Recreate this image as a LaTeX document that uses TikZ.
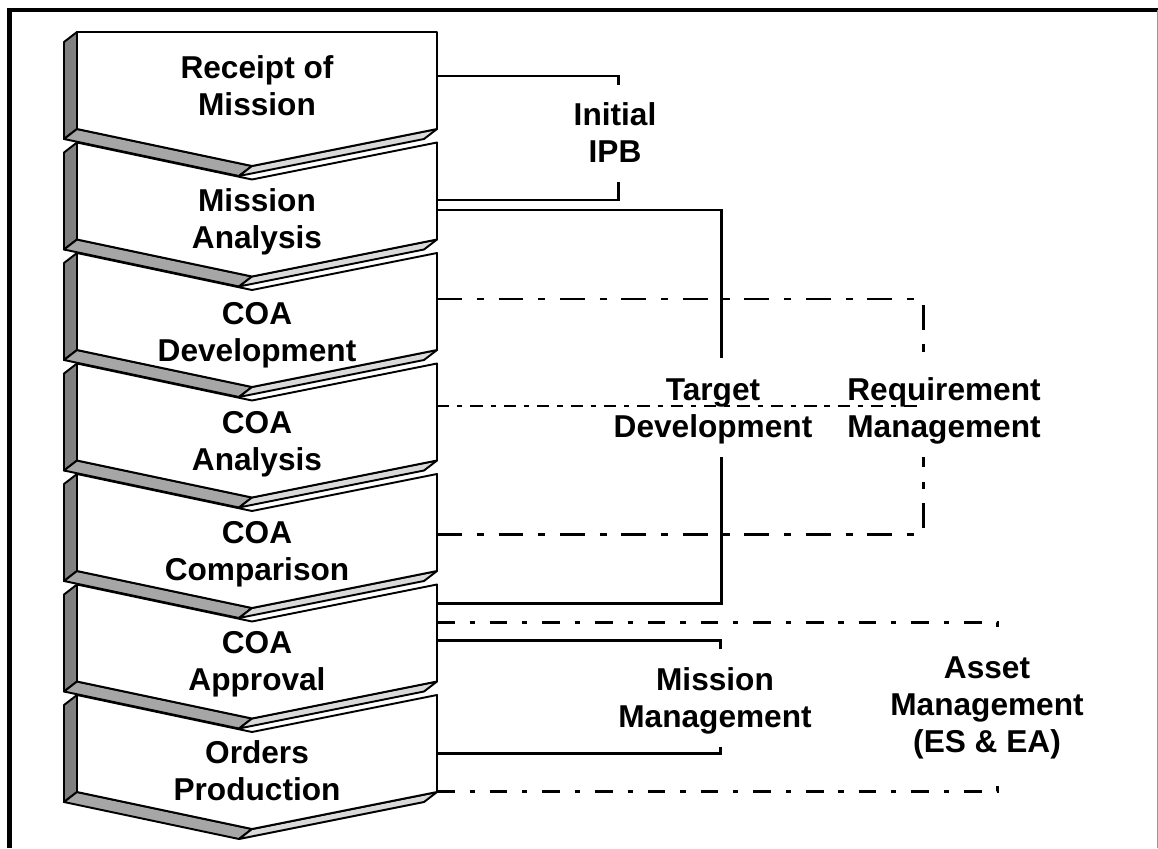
\documentclass[tikz,border=0pt]{standalone}
\usepackage{fontspec}
\setmainfont{Liberation Sans}
\usetikzlibrary{positioning}
\tikzstyle{stage} = [font=\bfseries\fontsize{18}{21}\selectfont, align=center, inner sep=0pt, anchor=base]
\tikzstyle{task} = [stage]
\tikzstyle{side} = [draw, line width=1.1pt, line join=round]
\tikzstyle{link} = [line width=1.7pt]
\tikzstyle{reqlink} = [line width=1.7pt, dash pattern=on 14pt off 8.5pt on 4pt off 8.5pt]
\tikzstyle{reqmid} = [line width=1.7pt, dash pattern=on 7pt off 4.5pt on 3pt off 4.5pt]
\tikzstyle{assetlink} = [line width=1.7pt, dash pattern=on 10pt off 8.5pt on 3pt off 8.5pt]

\begin{document}
\begin{tikzpicture}[x=0.02cm, y=-0.02cm]
\useasboundingbox (0,0) rectangle (1158,848);

% Frame
\draw[line width=2.3pt] (9.5,848) -- (9.5,10) -- (1158,10);
\draw[black!40, line width=0.4pt] (1157,10) -- (1157,848);

% Chevrons of the planning steps
\foreach \i in {0,...,6}{
  \pgfmathsetmacro\T{32+110.5*\i}
  \pgfmathsetmacro\N{\i==0 ? \T : \T+37}
  \filldraw[side, fill=black!50] (77,\T) -- ({77},{\T+97}) -- ({64},{\T+107}) -- ({64},{\T+10}) -- cycle;
  \filldraw[side, fill=black!35] ({77},{\T+97}) -- ({252},{\T+134}) -- ({239},{\T+144}) -- ({64},{\T+107}) -- cycle;
  \filldraw[side, fill=black!15] ({252},{\T+134}) -- ({437},{\T+97}) -- ({424},{\T+107}) -- ({239},{\T+144}) -- cycle;
  \filldraw[side, fill=white] (77,\T) -- (252,\N) -- (437,\T) -- ({437},{\T+97}) -- ({252},{\T+134}) -- ({77},{\T+97}) -- cycle;
}

% Step labels (placed at the baseline of the last line)
\node (rcpt) [stage] at (257,115) {Receipt of\\Mission};
\node (mana) [stage] at (257,248) {Mission\\Analysis};
\node (coadev) [stage] at (257,361) {COA\\Development};
\node (coaana) [stage] at (257,470) {COA\\Analysis};
\node (coacmp) [stage] at (257,580) {COA\\Comparison};
\node (coaapp) [stage] at (257,690) {COA\\Approval};
\node (orders) [stage] at (257,800) {Orders\\Production};

% Activity labels
\node (ipb) [task] at (615,162) {Initial\\IPB};
\node (target) [task] at (713,437) {Target\\Development};
\node (req) [task] at (944,437) {Requirement\\Management};
\node (mm) [task] at (715,727) {Mission\\Management};
\node (asset) [task] at (987,752) {Asset\\Management\\(ES \& EA)};

% Bracket ends
\coordinate (ipb-a) at (437,76);
\coordinate (ipb-b) at (437,200);
\coordinate (tgt-a) at (437,210);
\coordinate (tgt-b) at (437,603);
\coordinate (req-a) at (437,299);
\coordinate (req-m) at (437,406);
\coordinate (req-b) at (437,534);
\coordinate (ast-a) at (437,622);
\coordinate (mm-a) at (437,640);
\coordinate (mm-b) at (437,753);
\coordinate (ast-b) at (437,791);

% Brackets
\draw[link] (ipb-a) -| (618,85);
\draw[link] (ipb-b) -| (618,182);
\draw[link] (tgt-a) -| (721,358);
\draw[link] (tgt-b) -| (721,457);
\draw[reqlink] (req-a) -| (923,357);
\draw[reqmid] (req-m) -- (921,406);
\draw[reqlink] (req-b) -| (923,457);
\draw[link] (mm-a) -| (720,649);
\draw[link] (mm-b) -| (720,747);
\draw[assetlink] (ast-a) -| (997,632);
\draw[assetlink] (ast-b) -| (997,780);

\end{tikzpicture}
\end{document}
